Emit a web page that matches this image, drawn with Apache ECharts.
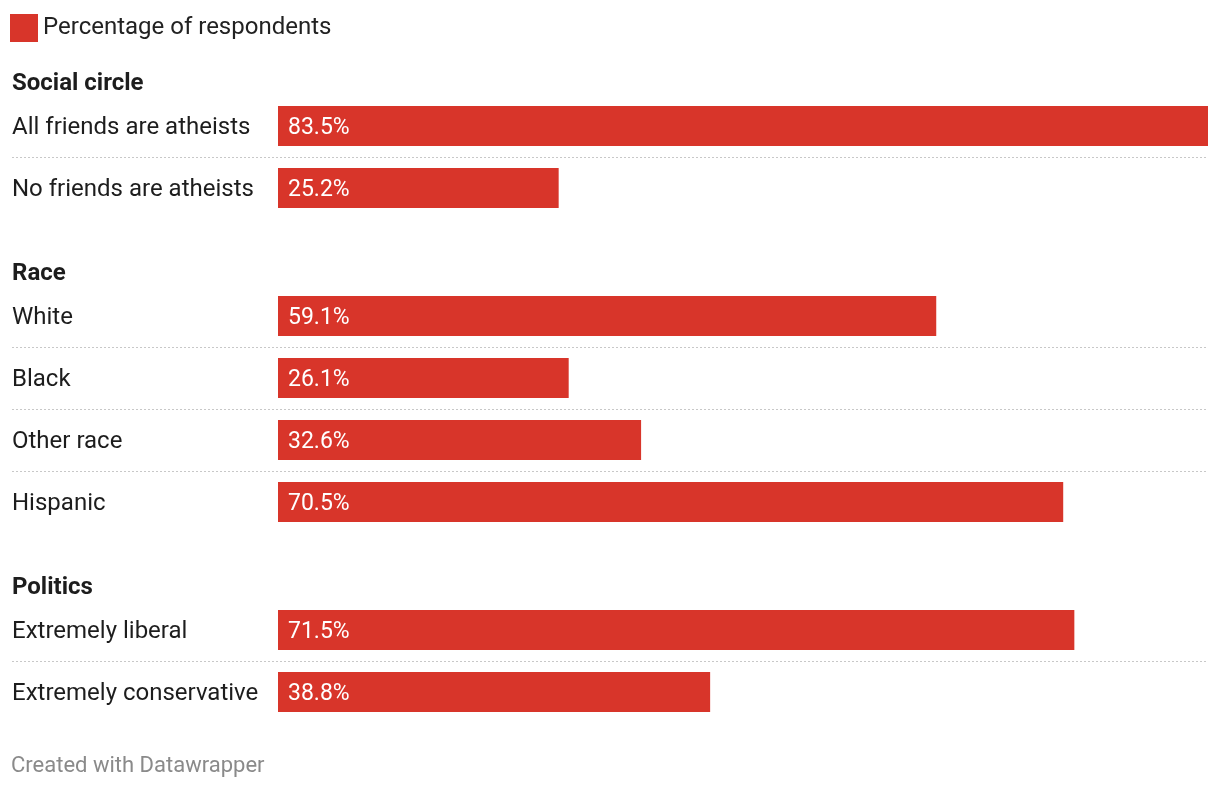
<!DOCTYPE html>
<html>
<head>
<meta charset="utf-8">
<script src="https://cdn.jsdelivr.net/npm/echarts@6/dist/echarts.min.js"></script>
<style>
  html, body { margin: 0; padding: 0; background: #fff; }
  #chart { width: 1220px; height: 790px; }
</style>
</head>
<body>
<div id="chart"></div>
<script>
// data
const seriesName = 'Percentage of respondents';
const groupNames = ['Social circle', 'Race', 'Politics'];
const socialLabels = ['All friends are atheists', 'No friends are atheists'];
const socialValues = [83.5, 25.2];
const raceLabels = ['White', 'Black', 'Other race', 'Hispanic'];
const raceValues = [59.1, 26.1, 32.6, 70.5];
const politicsLabels = ['Extremely liberal', 'Extremely conservative'];
const politicsValues = [71.5, 38.8];

const groups = [
  { labels: socialLabels, values: socialValues },
  { labels: raceLabels, values: raceValues },
  { labels: politicsLabels, values: politicsValues }
];

const red = '#d8352a';
const font = 'Roboto, "Noto Sans", sans-serif';
const rowH = 62;
const gridTops = [95, 285, 599];
const xMax = Math.max(...socialValues, ...raceValues, ...politicsValues);
// label column takes 266px of the 1196px plot width
const labelFrac = 266 / 1196;
const xMin = -xMax * labelFrac / (1 - labelFrac);

const myChart = echarts.init(document.getElementById('chart'));

const option = {
  animation: false,
  textStyle: { fontFamily: font },
  title: groupNames.map((name, i) => ({
    text: name,
    left: 12,
    top: gridTops[i] - 23,
    padding: 0,
    textStyle: { fontSize: 24, fontWeight: 'bold', color: '#1d1d1d', fontFamily: font }
  })).concat([{
    text: 'Created with Datawrapper',
    left: 11,
    top: 755,
    padding: 0,
    textStyle: { fontSize: 22, fontWeight: 'normal', color: '#8a8a8a', fontFamily: font }
  }]),
  legend: {
    data: [seriesName],
    left: 10,
    top: 14,
    padding: 0,
    icon: 'rect',
    itemWidth: 28,
    itemHeight: 28,
    selectedMode: false,
    textStyle: { fontSize: 24, color: '#222', fontFamily: font, padding: [2, 0, 0, 0] }
  },
  grid: groups.map((g, i) => ({
    left: 12,
    right: 12,
    top: gridTops[i],
    height: g.labels.length * rowH
  })),
  xAxis: groups.map((g, i) => ({
    type: 'value',
    gridIndex: i,
    min: xMin,
    max: xMax,
    show: false
  })),
  yAxis: groups.map((g, i) => ({
    type: 'category',
    gridIndex: i,
    inverse: true,
    data: g.labels,
    axisLine: { show: false },
    axisTick: { show: false },
    axisLabel: {
      inside: true,
      margin: 0,
      align: 'left',
      formatter: '{t|{value}}',
      rich: {
        t: { fontSize: 24, color: '#1d1d1d', fontFamily: font, padding: [4, 0, 0, 0] }
      }
    },
    splitLine: {
      show: true,
      showMinLine: false,
      showMaxLine: false,
      lineStyle: { color: '#c8c8c8', width: 1, type: [2, 2] }
    }
  })),
  series: groups.map((g, i) => ({
    name: seriesName,
    type: 'bar',
    xAxisIndex: i,
    yAxisIndex: i,
    data: g.values,
    barWidth: 40,
    itemStyle: { color: red },
    label: {
      show: true,
      position: 'insideLeft',
      distance: 10,
      offset: [0, 2],
      formatter: '{c}%',
      color: '#fff',
      fontSize: 23,
      fontFamily: font
    }
  }))
};

myChart.setOption(option);
</script>
</body>
</html>
